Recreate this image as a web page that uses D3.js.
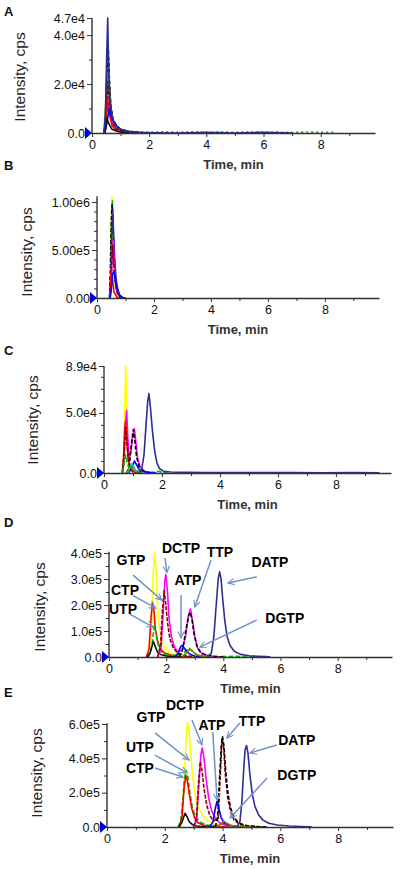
<!DOCTYPE html>
<html><head><meta charset="utf-8">
<script src="https://cdn.jsdelivr.net/npm/d3@7"></script>
<style>
body{margin:0;background:#fff;}
svg{display:block;font-family:"Liberation Sans",Arial,sans-serif;}
</style></head><body>
<svg id="c" width="400" height="869"></svg>
<script>
// ---------------- DATA ----------------
const panelNames = ["A","B","C","D","E"];
const timeTicks = [0,2,4,6,8];
const timeMinorTicks = [1,3,5,7,9];
const xTitle = "Time, min";
const yTitle = "Intensity, cps";

const aYTicks = [0,20000,40000,47000];
const aYLabels = ["0.0","2.0e4","4.0e4","4.7e4"];
const aYMinor = [10000,30000];
const bYTicks = [0,500000,1000000];
const bYLabels = ["0.00","5.00e5","1.00e6"];
const bYMinor = [100000,200000,300000,400000,600000,700000,800000,900000];
const cYTicks = [0,50000,89000];
const cYLabels = ["0.0","5.0e4","8.9e4"];
const cYMinor = [10000,20000,30000,40000,60000,70000,80000];
const dYTicks = [0,100000,200000,300000,400000];
const dYLabels = ["0.0","1.0e5","2.0e5","3.0e5","4.0e5"];
const dYMinor = [50000,150000,250000,350000];
const eYTicks = [0,200000,400000,600000];
const eYLabels = ["0.0","2.0e5","4.0e5","6.0e5"];
const eYMinor = [100000,300000,500000];

// traces: [time (min), intensity (cps)]
const aSeries = [
 {name:"noise", points:[[1.2,800],[1.6,500],[2,300],[2.5,500],[3,300],[3.5,450],[4,250],[4.5,400],[5,300],[5.5,450],[6,300],[6.5,350],[7,250],[7.5,400],[8,300],[8.5,250]]},
 {name:"GTP", points:[[0.40,0],[0.46,3000],[0.50,20000],[0.54,35000],[0.58,22000],[0.62,10000],[0.68,5000],[0.78,2500],[0.95,1000],[1.3,300],[1.8,0]]},
 {name:"DGTP", points:[[0.42,0],[0.5,15000],[0.55,36000],[0.6,20000],[0.66,9000],[0.75,4000],[0.9,2000],[1.2,700],[1.7,200],[2.2,0]]},
 {name:"TTP", points:[[0.42,0],[0.48,6000],[0.53,25000],[0.57,34000],[0.61,22000],[0.66,11000],[0.74,5500],[0.86,3000],[1.0,1500],[1.3,600],[1.8,100],[2.4,0]]},
 {name:"DCTP", points:[[0.45,0],[0.52,12000],[0.57,26000],[0.61,15000],[0.68,6000],[0.8,2500],[1.0,800],[1.4,0]]},
 {name:"UTP", points:[[0.45,0],[0.53,10000],[0.58,25000],[0.63,14000],[0.7,7000],[0.8,3500],[0.95,1500],[1.2,500],[1.6,0]]},
 {name:"ext2", points:[[0.44,0],[0.5,10000],[0.56,21000],[0.6,14000],[0.66,7000],[0.75,3000],[0.9,1200],[1.2,300],[1.6,0]]},
 {name:"CTP", points:[[0.45,0],[0.5,6000],[0.55,14000],[0.6,8000],[0.7,3000],[0.85,1000],[1.1,0]]},
 {name:"ATP", points:[[0.45,0],[0.52,4000],[0.6,10000],[0.66,7500],[0.74,5000],[0.85,3000],[1.0,1500],[1.2,700],[1.5,200],[2,0]]},
 {name:"ext1", points:[[0.45,0],[0.52,6000],[0.6,3500],[0.7,1500],[0.9,600],[1.3,0]]},
 {name:"DATP", points:[[0.42,0],[0.47,8000],[0.51,30000],[0.55,47000],[0.58,28000],[0.62,14000],[0.7,7000],[0.8,3500],[0.95,1600],[1.2,700],[1.6,300],[2.2,100],[3,0],[4,300],[5,0],[6,250],[7,0]]}
];
const bSeries = [
 {name:"GTP", points:[[0.44,0],[0.47,100000],[0.5,700000],[0.53,1050000],[0.56,700000],[0.6,300000],[0.65,120000],[0.72,40000],[0.8,10000],[0.9,0]]},
 {name:"UTP", points:[[0.45,0],[0.48,150000],[0.51,750000],[0.54,1020000],[0.57,650000],[0.61,280000],[0.66,110000],[0.74,35000],[0.85,0]]},
 {name:"TTP", points:[[0.44,0],[0.47,300000],[0.5,800000],[0.53,970000],[0.56,750000],[0.6,400000],[0.65,180000],[0.72,70000],[0.8,20000],[0.9,0]]},
 {name:"DATP", points:[[0.45,0],[0.49,300000],[0.52,700000],[0.55,920000],[0.58,700000],[0.62,420000],[0.67,200000],[0.73,90000],[0.8,30000],[0.9,5000],[1.0,0]]},
 {name:"DCTP", points:[[0.46,0],[0.5,200000],[0.54,500000],[0.57,600000],[0.6,400000],[0.65,180000],[0.72,60000],[0.82,10000],[0.9,0]]},
 {name:"ext2", points:[[0.45,0],[0.5,250000],[0.55,550000],[0.59,380000],[0.64,170000],[0.7,60000],[0.8,10000],[0.88,0]]},
 {name:"CTP", points:[[0.44,0],[0.47,150000],[0.5,300000],[0.54,200000],[0.6,60000],[0.7,10000],[0.8,0]]},
 {name:"ATP", points:[[0.46,0],[0.5,80000],[0.55,250000],[0.6,280000],[0.66,160000],[0.72,70000],[0.8,25000],[0.9,5000],[1.0,0]]}
];
const cSeries = [
 {name:"GTP", points:[[0.62,0],[0.67,8000],[0.71,45000],[0.75,89000],[0.78,60000],[0.82,22000],[0.87,8000],[0.95,3000],[1.1,800],[1.4,0]]},
 {name:"DCTP", points:[[0.64,0],[0.7,15000],[0.74,40000],[0.78,52000],[0.82,30000],[0.87,12000],[0.93,18000],[0.99,30000],[1.05,37000],[1.1,25000],[1.16,12000],[1.25,5000],[1.4,1500],[1.6,0]]},
 {name:"CTP", points:[[0.62,0],[0.67,10000],[0.71,35000],[0.74,43000],[0.78,30000],[0.83,12000],[0.9,4000],[1.0,1000],[1.2,0]]},
 {name:"ext2", points:[[0.64,0],[0.7,20000],[0.75,38000],[0.79,25000],[0.85,10000],[0.92,3000],[1.0,1000],[1.2,0]]},
 {name:"TTP", points:[[0.8,0],[0.88,8000],[0.95,25000],[1.01,36000],[1.06,28000],[1.12,14000],[1.2,6000],[1.3,2500],[1.45,800],[1.7,0]]},
 {name:"UTP", points:[[0.64,0],[0.7,8000],[0.75,15000],[0.8,9000],[0.86,4000],[0.95,6000],[1.02,5000],[1.12,2000],[1.3,800],[1.6,300],[1.9,1500],[2.0,400],[2.2,0]]},
 {name:"ATP", points:[[0.85,0],[0.95,4000],[1.05,10000],[1.12,7000],[1.2,3500],[1.3,1500],[1.5,500],[1.8,0]]},
 {name:"ext3", points:[[0.82,0],[0.9,5000],[0.96,8000],[1.02,5000],[1.1,2000],[1.25,500],[1.4,0]]},
 {name:"DGTP", points:[[0.75,0],[0.85,3000],[0.92,5000],[1.0,3000],[1.1,1200],[1.3,0]]},
 {name:"DATP", points:[[1.2,0],[1.3,3000],[1.38,15000],[1.45,40000],[1.51,60000],[1.55,66000],[1.6,55000],[1.67,35000],[1.75,18000],[1.83,8000],[1.92,3500],[2.05,1500],[2.3,800],[2.8,500],[3.5,400],[4.5,350],[5.5,300],[6.5,300],[7.5,250],[8.5,300],[9.5,200]]}
];
const dSeries = [
 {name:"GTP", points:[[1.3,0],[1.42,15000],[1.5,150000],[1.55,330000],[1.6,400000],[1.65,330000],[1.7,200000],[1.76,110000],[1.85,60000],[1.95,35000],[2.1,18000],[2.3,9000],[2.6,4000],[3.0,1500],[3.4,0]]},
 {name:"CTP", points:[[1.3,0],[1.4,30000],[1.47,150000],[1.52,210000],[1.57,180000],[1.62,110000],[1.7,60000],[1.8,30000],[1.95,15000],[2.2,6000],[2.5,2000],[2.9,0]]},
 {name:"UTP", points:[[1.35,0],[1.45,15000],[1.52,60000],[1.58,120000],[1.63,100000],[1.7,55000],[1.78,25000],[1.9,12000],[2.1,5000],[2.4,8000],[2.6,15000],[2.8,35000],[2.9,25000],[3.05,10000],[3.3,3000],[3.8,1000],[4.5,3000],[4.7,800],[5.2,0]]},
 {name:"ext1", points:[[1.35,0],[1.45,20000],[1.55,60000],[1.62,40000],[1.7,18000],[1.8,10000],[2.0,4000],[2.3,1000],[2.6,0]]},
 {name:"DCTP", points:[[1.7,0],[1.82,30000],[1.9,180000],[1.95,290000],[1.99,317000],[2.04,260000],[2.1,150000],[2.18,80000],[2.28,40000],[2.4,20000],[2.55,25000],[2.68,80000],[2.78,160000],[2.85,185000],[2.92,140000],[3.0,80000],[3.1,35000],[3.25,12000],[3.5,4000],[3.9,0]]},
 {name:"ext2", points:[[1.7,0],[1.8,40000],[1.87,180000],[1.93,255000],[1.98,210000],[2.05,130000],[2.13,70000],[2.25,35000],[2.4,15000],[2.6,6000],[3.0,0]]},
 {name:"TTP", points:[[2.45,0],[2.58,30000],[2.7,110000],[2.79,160000],[2.85,172000],[2.91,140000],[2.99,80000],[3.08,40000],[3.2,18000],[3.4,7000],[3.7,2000],[4.0,0]]},
 {name:"ATP", points:[[2.3,0],[2.42,15000],[2.5,38000],[2.56,45000],[2.63,35000],[2.72,20000],[2.85,10000],[3.0,4000],[3.3,1000],[3.6,0]]},
 {name:"DGTP", points:[[2.55,0],[2.7,15000],[2.82,30000],[2.92,22000],[3.05,10000],[3.25,3000],[3.6,0]]},
 {name:"DATP", points:[[3.45,0],[3.58,15000],[3.67,80000],[3.75,200000],[3.82,300000],[3.87,328000],[3.92,300000],[3.98,220000],[4.05,140000],[4.13,80000],[4.23,45000],[4.38,22000],[4.6,10000],[4.9,5000],[5.2,3000],[5.5,1500],[5.65,0]]}
];
const eSeries = [
 {name:"GTP", points:[[2.45,0],[2.58,40000],[2.65,200000],[2.72,450000],[2.78,610000],[2.84,560000],[2.9,420000],[2.97,290000],[3.05,190000],[3.15,120000],[3.3,70000],[3.5,35000],[3.8,15000],[4.2,6000],[4.8,2000],[5.4,0]]},
 {name:"UTP", points:[[2.45,0],[2.55,30000],[2.62,150000],[2.68,280000],[2.74,330000],[2.8,290000],[2.87,200000],[2.95,120000],[3.05,65000],[3.2,30000],[3.45,12000],[3.8,8000],[4.1,25000],[4.3,8000],[4.8,3000],[5.5,0]]},
 {name:"CTP", points:[[2.5,0],[2.6,60000],[2.67,230000],[2.73,300000],[2.78,270000],[2.85,190000],[2.93,110000],[3.03,55000],[3.15,25000],[3.35,10000],[3.7,3000],[4.2,0]]},
 {name:"ext1", points:[[2.5,0],[2.6,30000],[2.7,80000],[2.77,60000],[2.85,30000],[2.95,15000],[3.1,6000],[3.4,1500],[3.8,0]]},
 {name:"DCTP", points:[[3.0,0],[3.1,40000],[3.18,250000],[3.25,420000],[3.3,460000],[3.36,400000],[3.43,280000],[3.52,170000],[3.62,95000],[3.75,50000],[3.9,25000],[4.1,10000],[4.5,3000],[5.0,0]]},
 {name:"ext2", points:[[3.0,0],[3.1,60000],[3.17,260000],[3.23,380000],[3.29,330000],[3.36,220000],[3.45,130000],[3.55,70000],[3.68,35000],[3.85,50000],[3.93,330000],[3.98,515000],[4.04,460000],[4.1,300000],[4.18,170000],[4.28,90000],[4.4,40000],[4.6,15000],[5.0,4000],[5.5,0]]},
 {name:"TTP", points:[[3.75,0],[3.83,60000],[3.9,300000],[3.96,480000],[4.0,525000],[4.05,470000],[4.11,320000],[4.19,190000],[4.28,110000],[4.4,55000],[4.55,25000],[4.8,9000],[5.2,2000],[5.6,0]]},
 {name:"ATP", points:[[3.55,0],[3.67,30000],[3.75,110000],[3.81,150000],[3.87,110000],[3.95,55000],[4.05,25000],[4.2,10000],[4.5,3000],[5.0,0]]},
 {name:"DGTP", points:[[3.8,0],[3.95,20000],[4.05,35000],[4.15,20000],[4.3,8000],[4.6,2000],[5.0,0]]},
 {name:"DATP", points:[[4.5,0],[4.6,30000],[4.67,150000],[4.73,330000],[4.78,450000],[4.83,475000],[4.88,430000],[4.95,300000],[5.03,190000],[5.12,120000],[5.25,70000],[5.4,40000],[5.6,22000],[5.9,12000],[6.3,6000],[6.7,3000],[7.0,1500],[7.1,0]]}
];

// annotation labels (compound names) for panels D and E
const dLabels = ["GTP","DCTP","TTP","DATP","ATP","CTP","UTP","DGTP"];
const eLabels = ["DCTP","GTP","ATP","TTP","UTP","CTP","DATP","DGTP"];

// ---------------- STYLE / LAYOUT ----------------
const seriesStyle = {
  GTP:{color:"#ffff00"}, CTP:{color:"#ff0000"}, UTP:{color:"#00c000",dash:"5,2"},
  DCTP:{color:"#ff00ff"}, ATP:{color:"#0000ff"}, TTP:{color:"#000000",dash:"4,2"},
  DATP:{color:"#2e2e8f"}, DGTP:{color:"#808000"}, ext1:{color:"#111111"},
  ext2:{color:"#8b0000",dash:"4,1.5"}, ext3:{color:"#00cccc"}, noise:{color:"#2f8f2f",dash:"2,3"}
};
// annotation geometry in data units: [textT,textV, startT,startV, tipT,tipV]
const dAnnGeom = [
 [0.77,373000, 0.84,315000, 1.85,219000],
 [2.52,419000, 1.96,380000, 2.03,325000],
 [3.88,404000, 3.57,373000, 3.00,192000],
 [5.63,365000, 5.17,308000, 4.16,285000],
 [2.76,296000, 2.52,238000, 2.52,73000],
 [0.56,258000, 0.84,236000, 1.64,188000],
 [0.49,183000, 0.73,165000, 1.54,115000],
 [6.15,150000, 5.17,142000, 3.18,38000]
];
const eAnnGeom = [
 [2.70,711000, 2.94,623000, 3.29,478000],
 [1.52,641000, 1.66,548000, 2.84,390000],
 [3.63,594000, 3.66,553000, 3.81,157000],
 [5.02,617000, 4.60,606000, 4.15,518000],
 [1.14,466000, 1.66,419000, 2.77,315000],
 [1.14,344000, 1.66,344000, 2.63,291000],
 [6.57,507000, 5.88,478000, 4.95,431000],
 [6.57,303000, 5.54,285000, 4.26,52000]
];

const panels = [
 {label:"A", series:aSeries, yTicks:aYTicks, yLabels:aYLabels, yMinor:aYMinor, yMax:47000, axisTop:47000,
  left:92, right:375, y0:133, yTop:18, letterY:16, ytx:20, yty:77},
 {label:"B", series:bSeries, yTicks:bYTicks, yLabels:bYLabels, yMinor:bYMinor, yMax:1000000, axisTop:1060000,
  left:97, right:379, y0:298, yTop:202, letterY:170, ytx:27, yty:252},
 {label:"C", series:cSeries, yTicks:cYTicks, yLabels:cYLabels, yMinor:cYMinor, yMax:89000, axisTop:89000,
  left:104, right:391, y0:473, yTop:366, letterY:355, ytx:33, yty:420},
 {label:"D", series:dSeries, yTicks:dYTicks, yLabels:dYLabels, yMinor:dYMinor, yMax:400000, axisTop:405000,
  left:109, right:392, y0:657, yTop:553, letterY:527, ytx:40, yty:607, ann:dLabels, annGeom:dAnnGeom},
 {label:"E", series:eSeries, yTicks:eYTicks, yLabels:eYLabels, yMinor:eYMinor, yMax:600000, axisTop:605000,
  left:107, right:393, y0:827, yTop:724, letterY:697, ytx:37, yty:773, ann:eLabels, annGeom:eAnnGeom}
];

// ---------------- DRAW ----------------
const svg = d3.select("#c");
const defs = svg.append("defs");
defs.append("marker").attr("id","arr").attr("viewBox","0 0 10 10").attr("refX",9).attr("refY",5)
  .attr("markerWidth",8).attr("markerHeight",8).attr("orient","auto").attr("markerUnits","userSpaceOnUse")
  .append("path").attr("d","M1,1 L9,5 L1,9").attr("fill","none").attr("stroke","#6f93c9").attr("stroke-width",1.4);

panels.forEach(p => {
  const x = d3.scaleLinear().domain([0,9.9]).range([p.left,p.right]);
  const y = d3.scaleLinear().domain([0,p.yMax]).range([p.y0,p.yTop]);
  const g = svg.append("g");

  // panel letter
  g.append("text").attr("x",4).attr("y",p.letterY).text(p.label)
    .attr("font-weight","bold").attr("font-size",13).attr("fill","#111");

  // traces
  const line = d3.line().x(d=>x(d[0])).y(d=>y(d[1]));
  g.append("g").selectAll("path").data(p.series).join("path")
    .attr("d",d=>line(d.points)).attr("fill","none")
    .attr("stroke",d=>seriesStyle[d.name].color)
    .attr("stroke-dasharray",d=>seriesStyle[d.name].dash||null)
    .attr("stroke-width",1.6).attr("stroke-linejoin","round");

  // x axis
  g.append("g").attr("transform",`translate(0,${p.y0})`)
    .call(d3.axisBottom(x).tickValues(timeTicks).tickFormat(d3.format("d")).tickSize(4).tickSizeOuter(0).tickPadding(3));
  g.append("g").attr("transform",`translate(0,${p.y0})`)
    .call(d3.axisBottom(x).tickValues(timeMinorTicks).tickFormat("").tickSize(3).tickSizeOuter(0))
    .select(".domain").remove();
  // y axis
  const ya = g.append("g").attr("transform",`translate(${p.left},0)`)
    .call(d3.axisLeft(y).tickValues(p.yTicks).tickFormat((d,i)=>p.yLabels[i]).tickSize(5).tickSizeOuter(0).tickPadding(2));
  ya.select(".domain").remove();
  g.append("g").attr("transform",`translate(${p.left},0)`)
    .call(d3.axisLeft(y).tickValues(p.yMinor).tickFormat("").tickSize(3).tickSizeOuter(0))
    .select(".domain").remove();
  g.append("line").attr("x1",x(0)).attr("x2",x(0)).attr("y1",y(0)).attr("y2",y(p.axisTop))
    .attr("stroke","#222").attr("stroke-width",1.3);
  g.selectAll(".domain").attr("stroke","#333").attr("stroke-width",1.3);
  g.selectAll(".tick line").attr("stroke","#333");
  g.selectAll(".tick text").attr("font-size",12.5).attr("fill","#111")
    .attr("font-family","'Liberation Sans',Arial,sans-serif");

  // origin marker
  const ox = x(0), oy = y(0);
  g.append("path").attr("d",`M${ox},${oy} L${ox-7},${oy-6} L${ox-7},${oy+6} Z`).attr("fill","#0000cc");

  // axis titles
  g.append("text").attr("x",(p.left+p.right)/2).attr("y",p.y0+36).attr("text-anchor","middle")
    .attr("font-size",13).attr("font-weight","bold").attr("fill","#333").text(xTitle);
  g.append("text").attr("transform",`translate(${p.ytx},${p.yty}) rotate(-90)`).attr("text-anchor","middle")
    .attr("dy","0.35em").attr("font-size",15.5).attr("fill","#222").text(yTitle);

  // annotations
  if (p.ann) {
    p.ann.forEach((name,i) => {
      const a = p.annGeom[i];
      g.append("line").attr("x1",x(a[2])).attr("y1",y(a[3])).attr("x2",x(a[4])).attr("y2",y(a[5]))
        .attr("stroke","#6f93c9").attr("stroke-width",1.5).attr("marker-end","url(#arr)");
      g.append("text").attr("x",x(a[0])).attr("y",y(a[1])).attr("dy","0.35em").attr("text-anchor","middle")
        .attr("font-weight","bold").attr("font-size",14).attr("fill","#000").text(name);
    });
  }
});
</script>
</body></html>
